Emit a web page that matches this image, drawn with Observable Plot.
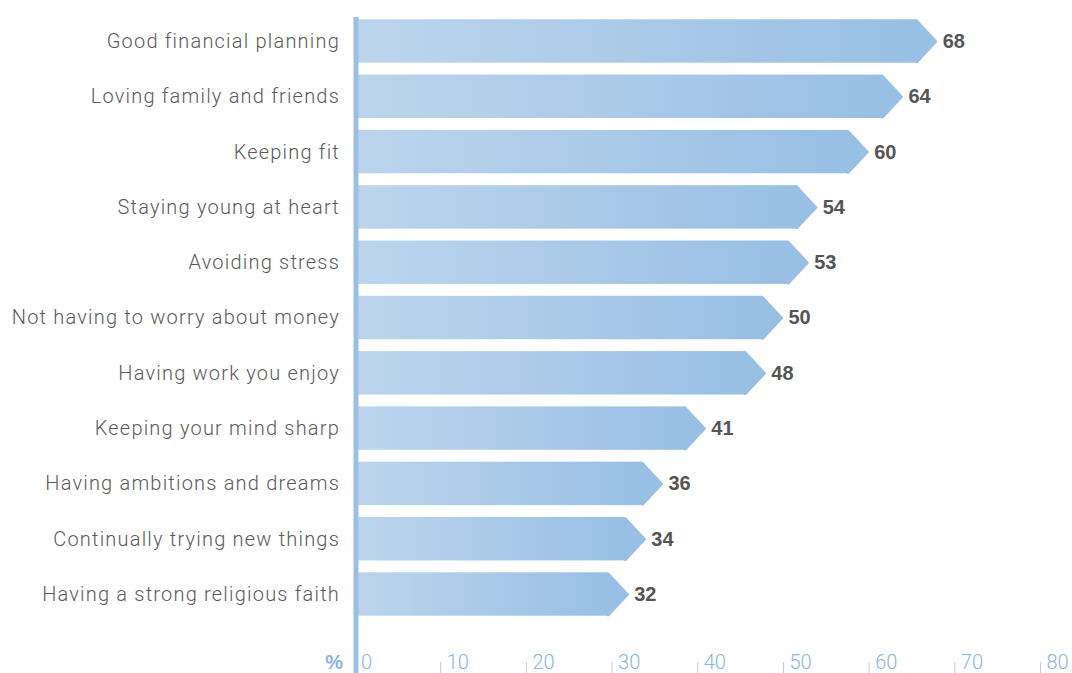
<!DOCTYPE html>
<html>
<head>
<meta charset="utf-8">
<script src="https://cdn.jsdelivr.net/npm/d3@7"></script>
<script src="https://cdn.jsdelivr.net/npm/@observablehq/plot@0.6"></script>
<style>
  html, body { margin: 0; padding: 0; background: #fff; }
  #chart { width: 1072px; height: 673px; }
</style>
</head>
<body>
<div id="chart"></div>
<script>
const categories = [
  "Good financial planning",
  "Loving family and friends",
  "Keeping fit",
  "Staying young at heart",
  "Avoiding stress",
  "Not having to worry about money",
  "Having work you enjoy",
  "Keeping your mind sharp",
  "Having ambitions and dreams",
  "Continually trying new things",
  "Having a strong religious faith"
];
const values = [68, 64, 60, 54, 53, 50, 48, 41, 36, 34, 32];
const xTicks = [0, 10, 20, 30, 40, 50, 60, 70, 80];
const unitLabel = "%";

const data = categories.map((c, i) => ({label: c, value: values[i]}));

const FONT = "Roboto, 'Helvetica Neue', Arial, sans-serif";
const BOLD_FONT = "'Liberation Sans', Arial, sans-serif";
const AXIS_BLUE = "#8ab4de";

const yRange = [13.35, 621.65];
const yPadInner = 0.215;
const bandStep = (yRange[1] - yRange[0]) / categories.length;
const bandH = bandStep * (1 - yPadInner);
const headLen = bandH / 2 * 0.93;

// right-pointing arrow head; tip at the symbol origin, small overlap onto the bar body
const arrowHead = {
  draw(context, size) {
    const h = Math.sqrt(size / Math.PI);
    const l = h * 0.93;
    context.moveTo(-l - 2, -h);
    context.lineTo(-l, -h);
    context.lineTo(0, 0);
    context.lineTo(-l, h);
    context.lineTo(-l - 2, h);
    context.closePath();
  }
};

const chart = Plot.plot({
  width: 1072,
  height: 673,
  marginLeft: 354.5,
  marginRight: 32,
  marginTop: 17,
  marginBottom: 11,
  style: {fontFamily: FONT, fontSize: "20px", background: "#fff"},
  x: {domain: [0, 80], axis: null},
  y: {domain: categories, range: yRange, paddingInner: yPadInner, paddingOuter: yPadInner / 2, round: false, axis: null},
  marks: [
    Plot.barX(data, {x1: 0, x2: "value", y: "label", insetRight: headLen, fill: "#aac9e8"}),
    Plot.dot(data, {x: "value", y: "label", symbol: arrowHead, r: bandH / 2, fill: "#98bfe4", stroke: "none"}),
    Plot.axisY({
      anchor: "left", tickSize: 0, tickPadding: 15, label: null,
      fontSize: 20, fontWeight: 300, color: "#5a5a5a"
    }),
    Plot.text(data, {
      x: "value", y: "label", text: d => String(d.value),
      dx: 5, textAnchor: "start", fontFamily: BOLD_FONT, fontWeight: "bold", fontSize: 20, fill: "#555"
    }),
    Plot.axisX({
      anchor: "bottom", ticks: xTicks.filter(t => t > 0), tickSize: 11, tickFormat: () => "",
      stroke: "#b3cfea", label: null
    }),
    Plot.ruleX([0], {stroke: "#9bc0e4", strokeWidth: 5, dx: 1, insetBottom: -11}),
    Plot.axisX({
      anchor: "bottom", ticks: xTicks, tickSize: 0, tickPadding: -8,
      textAnchor: "start", dx: 6, fontSize: 20, fontWeight: 300,
      color: AXIS_BLUE, label: null
    }),
    Plot.text([unitLabel], {
      frameAnchor: "bottom-left", text: d => d, textAnchor: "end",
      dx: -12, dy: 6, lineAnchor: "bottom", fontFamily: BOLD_FONT, fontWeight: "bold", fontSize: 20, fill: AXIS_BLUE
    })
  ]
});

const svg = d3.select(chart);
svg.select("g[aria-label='y-axis tick label']").attr("letter-spacing", "1.2px");
const defs = svg.append("defs");
const grad = defs.append("linearGradient")
  .attr("id", "barGrad")
  .attr("x1", "0").attr("x2", "1").attr("y1", "0").attr("y2", "0");
grad.append("stop").attr("offset", "0").attr("stop-color", "#bcd5ed");
grad.append("stop").attr("offset", "1").attr("stop-color", "#98bfe4");
svg.selectAll("g[aria-label='bar'] rect").attr("fill", "url(#barGrad)");

document.getElementById("chart").appendChild(chart);
</script>
</body>
</html>
